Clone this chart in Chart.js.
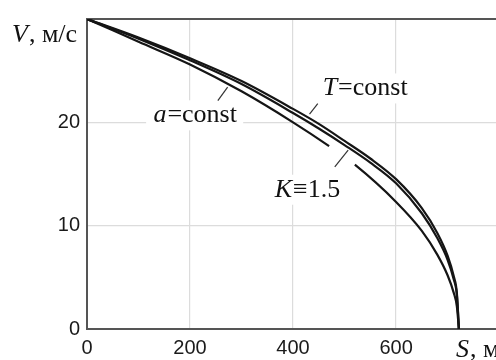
<!DOCTYPE html>
<html>
<head>
<meta charset="utf-8">
<script src="https://cdn.jsdelivr.net/npm/chart.js@4/dist/chart.umd.min.js"></script>
<style>
  html, body { margin: 0; padding: 0; background: #fff; overflow: hidden; }
  #wrap { width: 496px; height: 360px; }
</style>
</head>
<body>
<div id="wrap"><canvas id="chart" width="496" height="360"></canvas></div>
<script>
// путь S, м и скорость V, м/с
const sT = [0, 100, 200, 300, 400, 450, 500, 550, 600, 650, 680, 700, 712, 718, 722];
const vT = [30, 28.2, 26.2, 24.0, 21.3, 19.85, 18.2, 16.5, 14.5, 11.7, 9.3, 7.1, 5.1, 3.5, 0];

const sK = [0, 100, 200, 300, 400, 450, 500, 550, 600, 650, 680, 700, 712, 718, 722];
const vK = [30, 28.1, 26.0, 23.7, 20.9, 19.4, 17.8, 16.1, 14.1, 11.2, 8.8, 6.7, 4.8, 3.3, 0];

const sA = [0, 100, 200, 300, 400, 470, 520, 600, 650, 680, 700, 712, 718, 722];
const vA = [30, 27.8, 25.6, 23.0, 20.0, 17.7, 15.9, 12.3, 9.5, 7.2, 5.2, 3.5, 2.2, 0];

const xTicks = [0, 200, 400, 600];
const yTicks = [0, 10, 20];

const pts = (s, v) => s.map((x, i) => ({ x, y: v[i] }));

const SERIF = '"Liberation Serif", "DejaVu Serif", serif';
const SANS = '"Liberation Sans", Arial, sans-serif';

// подписи кривых (курсив + обычный текст), привязка в единицах осей
const labels = [
    { it: 'a', rest: '=const', s: 209, v: 20.0 },
    { it: 'T', rest: '=const', s: 539, v: 22.6 },
    { it: 'K', rest: '≡1.5', s: 427, v: 12.8 }
];
// выноски (S1, V1) -> (S2, V2)
const leaders = [
    [254, 22.1, 273, 23.4],
    [432, 20.8, 448, 21.8],
    [481, 15.7, 507, 17.3]
];

function drawMixed(ctx, it, rest, x, y, align) {
    ctx.font = `italic 26px ${SERIF}`;
    const w1 = ctx.measureText(it).width;
    ctx.font = `26px ${SERIF}`;
    const w2 = ctx.measureText(rest).width;
    const x0 = align === 'center' ? x - (w1 + w2) / 2 : x;
    ctx.textAlign = 'left';
    ctx.textBaseline = 'alphabetic';
    ctx.font = `italic 26px ${SERIF}`;
    ctx.fillText(it, x0, y);
    ctx.font = `26px ${SERIF}`;
    ctx.fillText(rest, x0 + w1 + 1, y);
}

const labelsPlugin = {
    id: 'labelsPlugin',
    beforeDatasetsDraw(chart) {
        const { ctx, scales: { x, y } } = chart;
        ctx.save();
        ctx.fillStyle = '#fff';
        labels.forEach(l => {
            const px = x.getPixelForValue(l.s), py = y.getPixelForValue(l.v);
            ctx.font = `26px ${SERIF}`;
            const w = ctx.measureText(l.it + l.rest).width + 4;
            ctx.fillRect(px - w / 2 - 6, py - 22, w + 12, 30);
        });
        ctx.restore();
    },
    afterDatasetsDraw(chart) {
        const { ctx, scales: { x, y }, chartArea } = chart;
        ctx.save();
        ctx.fillStyle = '#111';
        labels.forEach(l => {
            drawMixed(ctx, l.it, l.rest, x.getPixelForValue(l.s), y.getPixelForValue(l.v), 'center');
        });
        ctx.strokeStyle = '#333';
        ctx.lineWidth = 1.2;
        leaders.forEach(([s1, v1, s2, v2]) => {
            ctx.beginPath();
            ctx.moveTo(x.getPixelForValue(s1), y.getPixelForValue(v1));
            ctx.lineTo(x.getPixelForValue(s2), y.getPixelForValue(v2));
            ctx.stroke();
        });
        // подписи осей
        drawMixed(ctx, 'V', ', м/с', 12, chartArea.top + 23, 'left');
        drawMixed(ctx, 'S', ', м', 456, chartArea.bottom + 28, 'left');
        ctx.restore();
    }
};

const line = { borderColor: '#151515', borderWidth: 2.2, pointRadius: 0, fill: false, cubicInterpolationMode: 'monotone' };

new Chart(document.getElementById('chart'), {
    type: 'line',
    data: {
        datasets: [
            { label: 'T=const', data: pts(sT, vT), ...line },
            { label: 'K≡1.5', data: pts(sK, vK), ...line },
            {
                label: 'a=const', data: pts(sA, vA), ...line,
                segment: { borderColor: c => c.p0.parsed.x === 470 ? 'rgba(0,0,0,0)' : undefined }
            }
        ]
    },
    options: {
        responsive: false,
        animation: false,
        layout: { padding: { top: 15, right: 0, left: 0, bottom: 0 } },
        plugins: { legend: { display: false }, tooltip: { enabled: false } },
        scales: {
            x: {
                type: 'linear', min: 0, max: 794,
                afterBuildTicks: s => { s.ticks = xTicks.map(v => ({ value: v })); },
                afterFit: s => { s.height = 31; },
                ticks: { color: '#1a1a1a', font: { family: SANS, size: 20 }, padding: 7, maxRotation: 0 },
                grid: { color: '#dcdcdc', lineWidth: 1.2, drawTicks: false },
                border: { color: '#555', width: 2 }
            },
            y: {
                min: 0, max: 30,
                afterBuildTicks: s => { s.ticks = yTicks.concat([30]).map(v => ({ value: v })); },
                afterFit: s => { s.width = 87; },
                ticks: {
                    color: '#1a1a1a', font: { family: SANS, size: 20 }, padding: 7,
                    callback: v => v === 30 ? '' : v
                },
                grid: {
                    color: c => c.tick && c.tick.value === 30 ? '#555' : '#dcdcdc',
                    lineWidth: c => c.tick && c.tick.value === 30 ? 2 : 1.2,
                    drawTicks: false
                },
                border: { color: '#555', width: 2 }
            }
        }
    },
    plugins: [labelsPlugin]
});
</script>
</body>
</html>
